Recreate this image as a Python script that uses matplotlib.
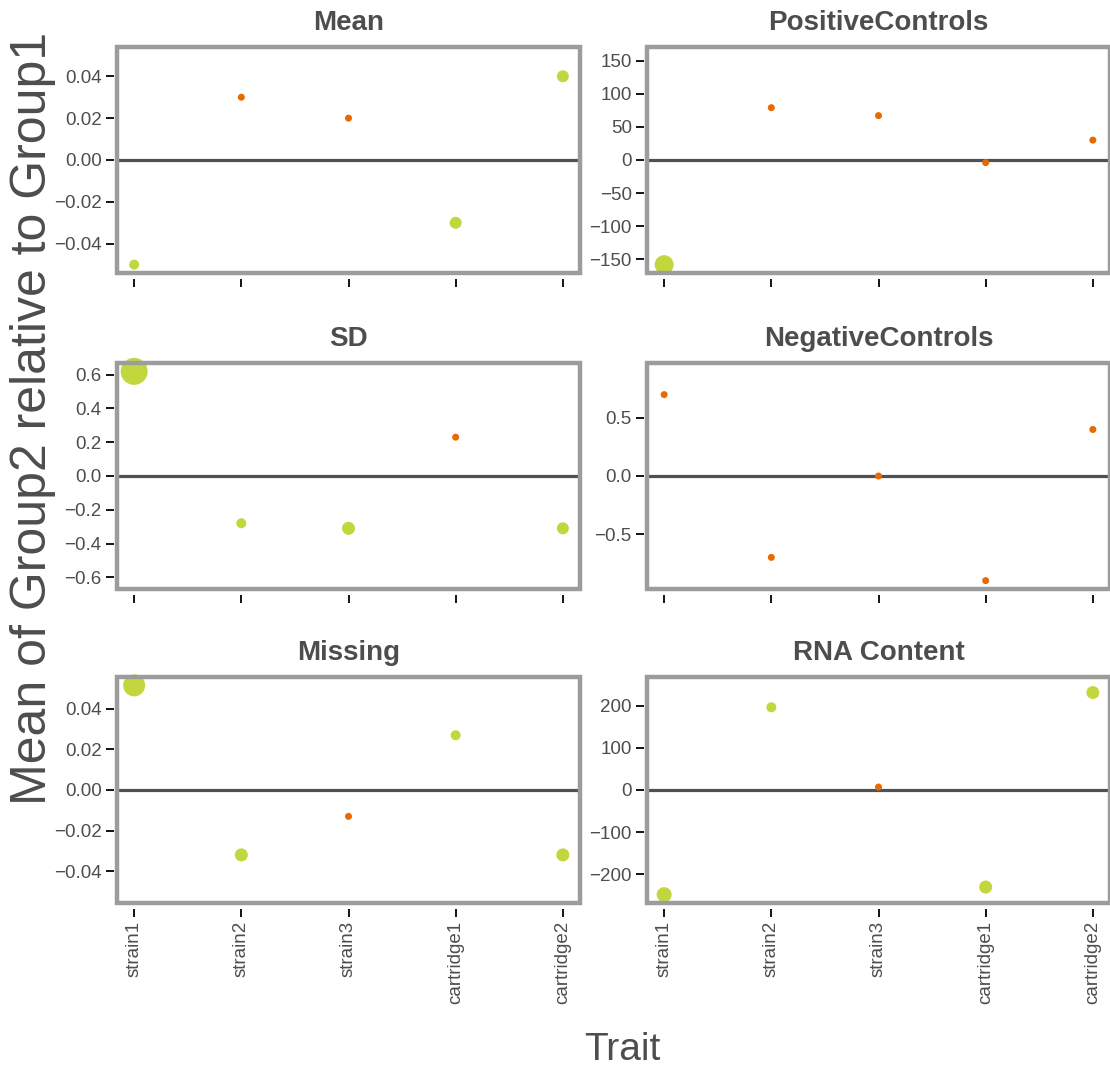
import matplotlib
matplotlib.use("Agg")
import matplotlib.pyplot as plt
from matplotlib.patches import Rectangle

plt.rcParams["font.family"] = ["Liberation Sans", "DejaVu Sans"]

traits = ["strain1", "strain2", "strain3", "cartridge1", "cartridge2"]

# values (Group2 - Group1 means)
mean_vals = [-0.050, 0.030, 0.020, -0.030, 0.040]
pos_vals = [-158, 79, 67, -4, 30]
sd_vals = [0.62, -0.28, -0.31, 0.23, -0.31]
neg_vals = [0.70, -0.70, 0.00, -0.90, 0.40]
missing_vals = [0.0516, -0.032, -0.013, 0.027, -0.032]
rna_vals = [-248, 196, 7, -230, 231]

# significant (green) or not (orange), and dot weight as drawn
mean_sig = [True, False, False, True, True]
pos_sig = [True, False, False, False, False]
sd_sig = [True, True, True, False, True]
neg_sig = [False, False, False, False, False]
missing_sig = [True, True, False, True, True]
rna_sig = [True, True, False, True, True]

mean_w = [10, 7, 7, 12, 12]
pos_w = [19, 7, 7, 7, 7]
sd_w = [27, 10, 13, 7, 12]
neg_w = [7, 7, 7, 7, 7]
missing_w = [22, 13, 7, 10, 13]
rna_w = [15, 10, 7, 13, 13]

titles = ["Mean", "PositiveControls", "SD", "NegativeControls", "Missing", "RNA Content"]
ticks = [
    [-0.04, -0.02, 0.00, 0.02, 0.04],
    [-150, -100, -50, 0, 50, 100, 150],
    [-0.6, -0.4, -0.2, 0.0, 0.2, 0.4, 0.6],
    [-0.5, 0.0, 0.5],
    [-0.04, -0.02, 0.00, 0.02, 0.04],
    [-200, -100, 0, 100, 200],
]
fmts = ["{:.2f}", "{:.0f}", "{:.1f}", "{:.1f}", "{:.2f}", "{:.0f}"]

panels = [
    (mean_vals, mean_sig, mean_w),
    (pos_vals, pos_sig, pos_w),
    (sd_vals, sd_sig, sd_w),
    (neg_vals, neg_sig, neg_w),
    (missing_vals, missing_sig, missing_w),
    (rna_vals, rna_sig, rna_w),
]

GREEN = "#C2D73E"
ORANGE = "#E66A00"
FRAME = "#9C9C9C"
TEXT = "#4D4D4D"

W, H = 1110, 1071
fig = plt.figure(figsize=(W / 100, H / 100), dpi=100)

lefts = [117, 647]
tops = [47, 363, 677]
pw, ph = 463, 226

x = list(range(len(traits)))
for i, (vals, sig, w) in enumerate(panels):
    r, c = divmod(i, 2)
    ax = fig.add_axes([lefts[c] / W, 1 - (tops[r] + ph) / H, pw / W, ph / H])
    m = max(abs(v) for v in vals)
    ax.set_ylim(-1.08 * m, 1.08 * m)
    ax.set_xlim(-0.16, len(traits) - 1 + 0.16)
    ax.axhline(0, color="#505050", lw=2.3, zorder=1)
    cols = [GREEN if s else ORANGE for s in sig]
    sizes = [(d * 0.72) ** 2 for d in w]
    ax.scatter(x, vals, s=sizes, c=cols, linewidths=0, zorder=3, clip_on=False)

    for sp in ax.spines.values():
        sp.set_visible(False)
    ax.spines["bottom"].set_position(("outward", 4))
    ax.spines["left"].set_position(("outward", 2))
    ax.add_patch(Rectangle((0, 0), 1, 1, transform=ax.transAxes, fill=False,
                           edgecolor=FRAME, lw=3.2, clip_on=False, zorder=4))

    ax.set_yticks(ticks[i])
    ax.set_yticklabels([fmts[i].format(t).replace("-", "\u2212") for t in ticks[i]])
    ax.set_xticks(x)
    if r == 2:
        ax.set_xticklabels(traits, rotation=90)
    else:
        ax.set_xticklabels([])
    ax.tick_params(direction="out", length=6, width=1.3, color="black",
                   labelsize=13.5, labelcolor=TEXT, pad=3)
    ax.set_title(titles[i], fontsize=20, fontweight="bold", color=TEXT, pad=12)

fig.text(622 / W, 1 - 1050 / H, "Trait", fontsize=28, color=TEXT,
         ha="center", va="center")
fig.text(33 / W, 1 - 418 / H, "Mean of Group2 relative to Group1", fontsize=36,
         color=TEXT, rotation=90, ha="center", va="center")

fig.savefig("out.png", dpi=100)
